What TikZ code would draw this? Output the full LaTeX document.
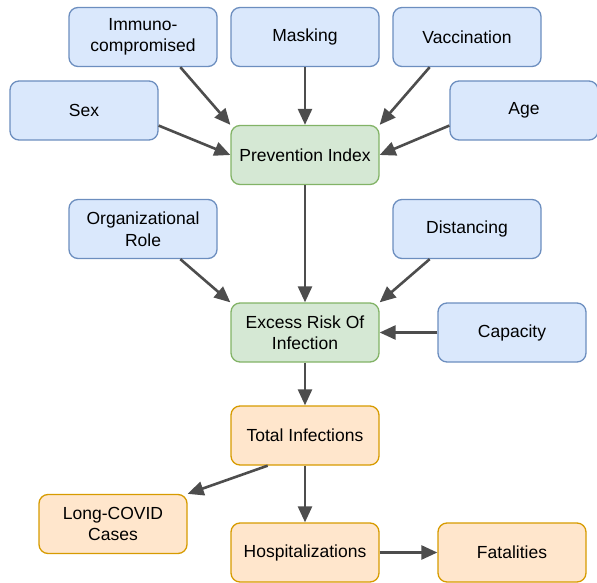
\documentclass[tikz,border=0pt]{standalone}
\usepackage{fontspec}
\setmainfont{Liberation Sans}
\usetikzlibrary{arrows.meta,calc}
\definecolor{bfill}{HTML}{DAE8FC}
\definecolor{bline}{HTML}{6C8EBF}
\definecolor{gfill}{HTML}{D5E8D4}
\definecolor{gline}{HTML}{82B366}
\definecolor{ofill}{HTML}{FFE6CC}
\definecolor{oline}{HTML}{D79B00}
\definecolor{arr}{HTML}{4D4D4D}
\tikzset{
  box/.style={rounded corners=9pt, line width=1.3pt, minimum width=148pt, minimum height=59pt,
    align=center, inner sep=0pt, font=\fontsize{17.5}{21.5}\selectfont},
  bluebox/.style={box, fill=bfill, draw=bline},
  greenbox/.style={box, fill=gfill, draw=gline},
  orangebox/.style={box, fill=ofill, draw=oline},
  conn/.style={draw=arr, line width=2.6pt, -{Triangle[length=16pt,width=14pt]}, shorten >=0pt}
}
\begin{document}
\begin{tikzpicture}[x=1pt,y=-1pt]
\useasboundingbox (0,0) rectangle (597,583);
\node[bluebox] (imm) at (143,37) {Immuno-\\compromised};
\node[bluebox] (mask) at (305,37) {Masking};
\node[bluebox] (vacc) at (467,37) {Vaccination};
\node[bluebox] (sex) at (84,110.5) {Sex};
\node[bluebox] (age) at (524,110.5) {Age};
\node[greenbox] (prev) at (305,155) {Prevention Index};
\node[bluebox] (org) at (143,229) {Organizational\\Role};
\node[bluebox] (dist) at (467,229) {Distancing};
\node[greenbox] (exc) at (305,332.5) {Excess Risk Of\\Infection};
\node[bluebox] (cap) at (512,332.5) {Capacity};
\node[orangebox] (tot) at (305,435.5) {Total Infections};
\node[orangebox] (long) at (113,524) {Long-COVID\\Cases};
\node[orangebox] (hosp) at (305,552.5) {Hospitalizations};
\node[orangebox] (fat) at (512,552.5) {Fatalities};

\draw[conn] ($(imm.south west)!0.75!(imm.south east)$) -- (prev.north west);
\draw[conn] (mask.south) -- (prev.north);
\draw[conn] ($(vacc.south west)!0.25!(vacc.south east)$) -- (prev.north east);
\draw[conn] ($(sex.north east)!0.75!(sex.south east)$) -- (prev.west);
\draw[conn] ($(age.north west)!0.75!(age.south west)$) -- (prev.east);
\draw[conn] (prev.south) -- (exc.north);
\draw[conn] ($(org.south west)!0.75!(org.south east)$) -- (exc.north west);
\draw[conn] ($(dist.south west)!0.25!(dist.south east)$) -- (exc.north east);
\draw[conn] (cap.west) -- (exc.east);
\draw[conn] (exc.south) -- (tot.north);
\draw[conn] ($(tot.south west)!0.25!(tot.south east)$) -- (long.north east);
\draw[conn] (tot.south) -- (hosp.north);
\draw[conn] (hosp.east) -- (fat.west);
\end{tikzpicture}
\end{document}
